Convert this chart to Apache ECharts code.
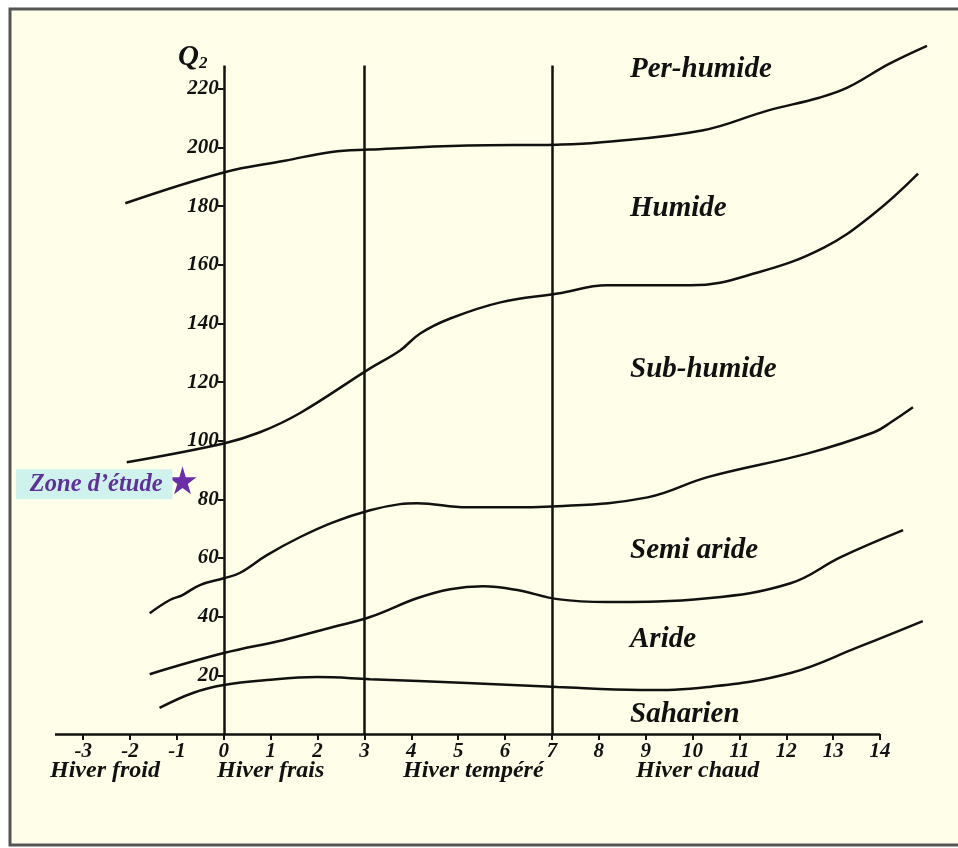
<!DOCTYPE html>
<html>
<head>
<meta charset="utf-8">
<script src="https://cdn.jsdelivr.net/npm/echarts@6/dist/echarts.min.js"></script>
<style>
html,body{margin:0;padding:0;background:#ffffff;}
#chart{width:958px;height:848px;}
</style>
</head>
<body>
<div id="chart"></div>
<script>
// ---- data ----
const xTicks = [-3,-2,-1,0,1,2,3,4,5,6,7,8,9,10,11,12,13,14];
const yTicks = [20,40,60,80,100,120,140,160,180,200,220];
const xAxisStart = -3.6;
const xAxisEnd = 14;
const yAxisTop = 228;
const winterBounds = [3, 7];

const curvePerHumide = [[-2.1,181],[0,191.5],[1.3,195.5],[2.3,198.5],[3.1,199.3],[5.2,200.7],[7.1,201],[8,201.7],[10.2,205.8],[11.6,212.6],[12.7,217],[13.3,220.4],[14.2,228.6],[15,234.7]];
const curveHumide = [[-2.07,92.7],[0,99.1],[0.77,102.9],[1.62,109.4],[3.12,124.7],[3.76,130.8],[4.19,136.6],[4.83,141.7],[5.9,147.2],[7.12,150.2],[8.18,153],[9.96,153],[11.39,157.4],[12.8,165.9],[13.87,177.5],[14.81,191.1]];
const curveSubHumide = [[-1.58,41.2],[-1.15,45.7],[-0.88,47.4],[-0.51,50.8],[0,53.1],[0.34,54.9],[0.92,61],[1.62,67.1],[2.33,72.2],[3.12,76.3],[3.76,78.4],[4.12,78.7],[5.19,77.3],[5.9,77.3],[7.12,77.7],[9.04,80.7],[10.32,87.6],[12.46,95.7],[13.87,102.9],[14.23,106.3],[14.7,111.4]];
const curveSemiAride = [[-1.58,20.4],[0,27.6],[1.26,32],[2.33,36.5],[3.12,39.9],[4.12,46.3],[4.83,49.4],[5.53,50.4],[6.26,49.1],[7.12,46],[8.18,45],[10.32,46.3],[12.09,51.4],[13.16,60.3],[14.49,69.5]];
const curveAride = [[-1.37,8.9],[-0.66,14],[0,16.7],[0.92,18.4],[1.99,19.4],[3.12,18.7],[5.19,17.4],[7.12,16],[8.89,15],[10.32,16],[12.09,20.8],[13.53,29.6],[14.91,38.5]];
const studyZone = [[-0.88, 86.5]];

const zoneNames = ['Per-humide','Humide','Sub-humide','Semi aride','Aride','Saharien'];
const winterNames = ['Hiver froid','Hiver frais','Hiver tempéré','Hiver chaud'];
const studyLabel = 'Zone d\u2019étude';

// ---- styles ----
const FONT = '"Liberation Serif", "Times New Roman", serif';
const INK = '#111111';
const zoneTextY = [70, 209, 370, 551, 640, 715];
const winterTextX = [50, 217, 403, 636];

const boundaryCurves = [curvePerHumide, curveHumide, curveSubHumide, curveSemiAride, curveAride];

// axis frame lines drawn through the data scales
const frameLines = [
  [{coord: [xAxisStart, 0]}, {coord: [xAxisEnd, 0]}],
  [{coord: [0, 0]}, {coord: [0, yAxisTop]}]
].concat(winterBounds.map(v => [{coord: [v, 0]}, {coord: [v, yAxisTop]}]));

const series = boundaryCurves.map((c, i) => ({
  type: 'line',
  data: c,
  smooth: 0.4,
  symbol: 'none',
  silent: true,
  lineStyle: {color: INK, width: 2.5},
  markLine: i === 0 ? {
    silent: true,
    symbol: 'none',
    label: {show: false},
    lineStyle: {color: INK, width: 2.5, type: 'solid'},
    data: frameLines
  } : undefined
}));

series.push({
  type: 'scatter',
  data: studyZone,
  symbol: 'path://M50,0 L61,35 L98,35 L68,57 L79,91 L50,70 L21,91 L32,57 L2,35 L39,35 Z',
  symbolSize: 28,
  itemStyle: {color: '#6a2fa6', opacity: 1},
  z: 5,
  label: {
    show: true,
    position: 'left',
    distance: 0,
    offset: [4, 4],
    formatter: studyLabel,
    fontFamily: FONT,
    fontStyle: 'italic',
    fontWeight: 'bold',
    fontSize: 24.5,
    color: '#5f2f9a',
    backgroundColor: '#cff3ec',
    padding: [3, 10, 2, 14]
  }
});

const graphic = [
  {type: 'rect', z: -10, shape: {x: 10, y: 9, width: 960, height: 836},
   style: {fill: '#FFFFE9', stroke: '#555555', lineWidth: 3}},
  {type: 'text', x: 178, y: 43, z: 10,
   style: {text: '{q|Q}{s|2}', rich: {
     q: {fontFamily: FONT, fontStyle: 'italic', fontWeight: 'bold', fontSize: 29, fill: INK},
     s: {fontFamily: FONT, fontStyle: 'italic', fontWeight: 'bold', fontSize: 17, fill: INK, padding: [12, 0, 0, 0]}
   }}}
];
zoneNames.forEach((t, i) => graphic.push({
  type: 'text', x: 630, y: zoneTextY[i], z: 10,
  style: {text: t, fontFamily: FONT, fontStyle: 'italic', fontWeight: 'bold', fontSize: 29, fill: INK, verticalAlign: 'middle'}
}));
winterNames.forEach((t, i) => graphic.push({
  type: 'text', x: winterTextX[i], y: 771, z: 10,
  style: {text: t, fontFamily: FONT, fontStyle: 'italic', fontWeight: 'bold', fontSize: 24, fill: INK, verticalAlign: 'middle'}
}));

const chart = echarts.init(document.getElementById('chart'), null, {renderer: 'canvas'});
chart.setOption({
  animation: false,
  backgroundColor: 'transparent',
  grid: {left: 55, right: 31, top: 42, bottom: 114},
  xAxis: {
    type: 'value', min: xAxisStart, max: 15,
    axisLine: {show: false},
    axisTick: {show: true, length: 6, customValues: xTicks, lineStyle: {color: INK, width: 2}},
    axisLabel: {customValues: xTicks, margin: 7, fontFamily: FONT, fontStyle: 'italic', fontWeight: 'bold', fontSize: 21, color: INK},
    splitLine: {show: false}
  },
  yAxis: {
    type: 'value', min: 0, max: 236,
    position: 'left',
    offset: -168.75,
    axisLine: {show: false, onZero: false},
    axisTick: {show: true, length: 6, customValues: yTicks, lineStyle: {color: INK, width: 2}},
    axisLabel: {customValues: yTicks, margin: 5, fontFamily: FONT, fontStyle: 'italic', fontWeight: 'bold', fontSize: 21, color: INK},
    splitLine: {show: false}
  },
  graphic: graphic,
  series: series
});
</script>
</body>
</html>
